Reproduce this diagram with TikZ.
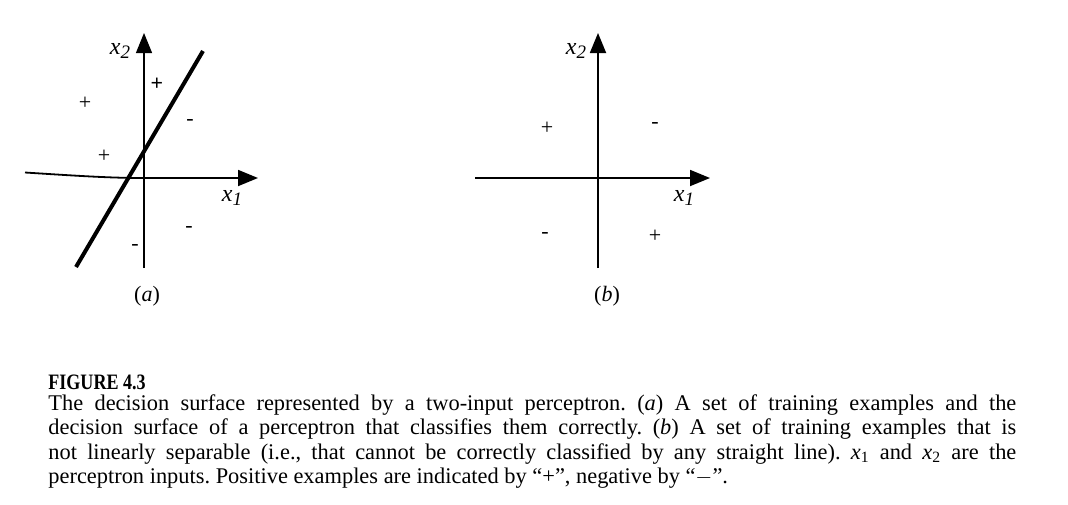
\documentclass[tikz,border=0pt]{standalone}
\usepackage{fontspec}
\setmainfont{Liberation Serif}
\usetikzlibrary{arrows.meta}

\newcommand{\axislab}[2]{{\fontsize{12}{12}\selectfont\textit{#1}\raisebox{-0.45ex}{\fontsize{9.5}{9.5}\selectfont\textit{#2}}}}

\begin{document}
\begin{tikzpicture}[x=0.5pt, y=-0.5pt, >={Triangle[length=10pt,width=8pt]},
		axis/.style={line width=0.9pt, ->},
		sign/.style={font=\fontsize{11}{11}\selectfont, inner sep=0pt},
		sub/.style={font=\fontsize{11}{11}\selectfont}]
		\useasboundingbox (0,0) rectangle (1068,504);
		
		% (a) linearly separable
		\coordinate (aO) at (144,178);
		\draw[axis, line width=0.6pt] (144,268) -- (144,33);
		\draw[axis] (25,172.5) .. controls (80,176) and (110,178) .. (aO) -- (258,178);
		\draw[line width=2pt] (76,267) -- (203,51);
		\node (ax2) at (120,51) {\axislab{x}{2}};
		\node (ax1) at (232,198) {\axislab{x}{1}};
		\node[sign, font=\bfseries\fontsize{11}{11}\selectfont] (ap1) at (157,84) {+};
		\node[sign] (ap2) at (85,103) {+};
		\node[sign] (ap3) at (104,156) {+};
		\node[sign] (am1) at (190,122) {-};
		\node[sign] (am2) at (189,229) {-};
		\node[sign] (am3) at (135,247) {-};
		\node[sub] (alab) at (147,296) {(\textit{a})};
		
		% (b) not linearly separable
		\draw[axis] (598,268) -- (598,33);
		\draw[axis] (475,178) -- (710,178);
		\node (bx2) at (576,51) {\axislab{x}{2}};
		\node (bx1) at (684,198) {\axislab{x}{1}};
		\node[sign] (bp1) at (547,128) {+};
		\node[sign] (bm1) at (655,125) {-};
		\node[sign] (bm2) at (545,235) {-};
		\node[sign] (bp2) at (655,236) {+};
		\node[sub] (blab) at (607,296) {(\textit{b})};
		
		% caption
		\node[anchor=base west, inner sep=0pt, font=\bfseries\fontsize{11}{12}\selectfont] (fig) at (48,389) {\scalebox{0.82}[1]{FIGURE 4.3}};
		\node[anchor=north west, inner sep=0pt, text width=484pt, align=justify,
		font=\fontsize{11.2}{12.3}\selectfont\frenchspacing] (cap) at (48,394)
		{The decision surface represented by a two-input perceptron. (\textit{a}) A set of training examples and the\linebreak
			decision surface of a perceptron that classifies them correctly. (\textit{b}) A set of training examples that is\linebreak
			not linearly separable (i.e., that cannot be correctly classified by any straight line). \textit{x}\textsubscript{1} and \textit{x}\textsubscript{2} are the\linebreak
			perceptron inputs. Positive examples are indicated by “+”, negative by “$-$”.};
	\end{tikzpicture}
\end{document}
